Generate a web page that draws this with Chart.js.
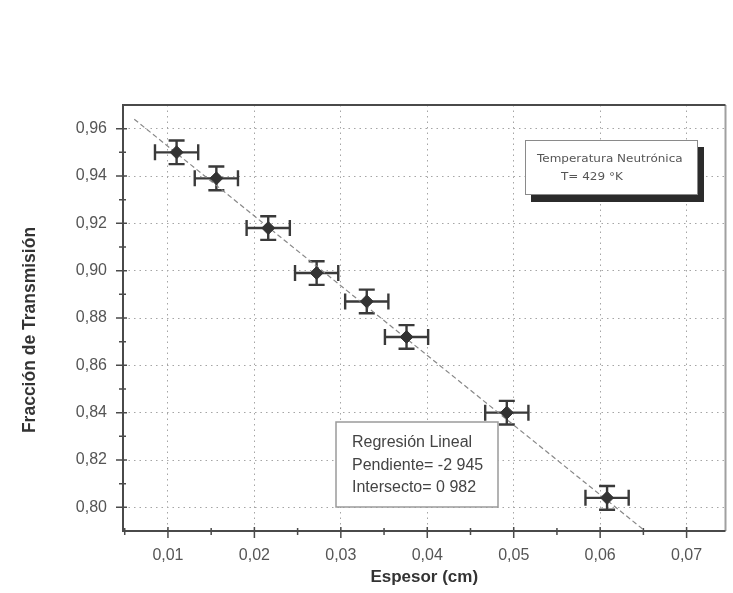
<!DOCTYPE html>
<html>
<head>
<meta charset="utf-8">
<script src="https://cdn.jsdelivr.net/npm/chart.js@4.4.1/dist/chart.umd.min.js"></script>
<style>
  html, body { margin: 0; padding: 0; background: #ffffff; }
  #wrap { width: 733px; height: 593px; }
</style>
</head>
<body>
<div id="wrap"><canvas id="c" width="733" height="593"></canvas></div>
<script>
// ---- data ----
const espesor      = [0.0110, 0.0156, 0.0216, 0.0272, 0.0330, 0.0376, 0.0492, 0.0608];
const transmision  = [0.950, 0.939, 0.918, 0.899, 0.887, 0.872, 0.840, 0.804];
const errX         = [0.0025, 0.0025, 0.0025, 0.0025, 0.0025, 0.0025, 0.0025, 0.0025];
const errY         = [0.005, 0.005, 0.005, 0.005, 0.005, 0.005, 0.005, 0.005];
const fitX         = [0.0061, 0.0652];
const fitY         = [0.9640, 0.7900];
const xTicks       = [0.01, 0.02, 0.03, 0.04, 0.05, 0.06, 0.07];
const xMinorTicks  = [0.005, 0.015, 0.025, 0.035, 0.045, 0.055, 0.065];
const yTicks       = [0.80, 0.82, 0.84, 0.86, 0.88, 0.90, 0.92, 0.94, 0.96];
const yMinorTicks  = [0.79, 0.81, 0.83, 0.85, 0.87, 0.89, 0.91, 0.93, 0.95, 0.97];
const xTitle = 'Espesor (cm)';
const yTitle = 'Fracción de Transmisión';
const regText = ['Regresión Lineal', 'Pendiente= -2 945', 'Intersecto= 0 982'];
const tempText = ['Temperatura Neutrónica', 'T= 429 °K'];

const fmt = v => v.toFixed(2).replace('.', ',');
const SANS = '"Liberation Sans", Arial, sans-serif';

const decor = {
  id: 'decor',
  beforeDatasetsDraw(chart) {
    const {ctx, chartArea: a, scales: {x, y}} = chart;
    ctx.save();
    // frame
    ctx.strokeStyle = '#a0a0a0';
    ctx.lineWidth = 2;
    ctx.beginPath();
    ctx.moveTo(a.right, a.top); ctx.lineTo(a.right, a.bottom);
    ctx.stroke();
    ctx.strokeStyle = '#4a4a4a';
    ctx.lineWidth = 2;
    ctx.beginPath();
    ctx.moveTo(a.right, a.top); ctx.lineTo(a.left, a.top); ctx.lineTo(a.left, a.bottom); ctx.lineTo(a.right, a.bottom);
    ctx.stroke();
    // ticks
    ctx.lineWidth = 1.5;
    ctx.strokeStyle = '#4a4a4a';
    ctx.beginPath();
    yTicks.forEach(v => { const p = y.getPixelForValue(v); ctx.moveTo(a.left - 7, p); ctx.lineTo(a.left + 4, p); });
    yMinorTicks.forEach(v => { const p = y.getPixelForValue(v); if (p > a.top + 1 && p < a.bottom - 1) { ctx.moveTo(a.left - 4, p); ctx.lineTo(a.left + 3, p); } });
    xTicks.forEach(v => { const p = x.getPixelForValue(v); ctx.moveTo(p, a.bottom + 7); ctx.lineTo(p, a.bottom - 4); });
    xMinorTicks.forEach(v => { const p = x.getPixelForValue(v); if (p > a.left + 1 && p < a.right - 1) { ctx.moveTo(p, a.bottom + 4); ctx.lineTo(p, a.bottom - 3); } });
    ctx.stroke();
    // error bars
    ctx.strokeStyle = '#3a3a3a';
    ctx.lineWidth = 2.4;
    const cap = 8;
    ctx.beginPath();
    espesor.forEach((xv, i) => {
      const yv = transmision[i];
      const px = x.getPixelForValue(xv), py = y.getPixelForValue(yv);
      const x0 = x.getPixelForValue(xv - errX[i]), x1 = x.getPixelForValue(xv + errX[i]);
      const y0 = y.getPixelForValue(yv + errY[i]), y1 = y.getPixelForValue(yv - errY[i]);
      ctx.moveTo(x0, py); ctx.lineTo(x1, py);
      ctx.moveTo(x0, py - cap); ctx.lineTo(x0, py + cap);
      ctx.moveTo(x1, py - cap); ctx.lineTo(x1, py + cap);
      ctx.moveTo(px, y0); ctx.lineTo(px, y1);
      ctx.moveTo(px - cap, y0); ctx.lineTo(px + cap, y0);
      ctx.moveTo(px - cap, y1); ctx.lineTo(px + cap, y1);
    });
    ctx.stroke();
    ctx.restore();
  },
  afterDatasetsDraw(chart) {
    const {ctx} = chart;
    ctx.save();
    // temperature box with shadow
    ctx.fillStyle = '#2b2b2b';
    ctx.fillRect(531, 147, 173, 55);
    ctx.fillStyle = '#ffffff';
    ctx.fillRect(525, 140, 173, 55);
    ctx.strokeStyle = '#8a8a8a';
    ctx.lineWidth = 1;
    ctx.strokeRect(525.5, 140.5, 172, 54);
    ctx.fillStyle = '#555555';
    ctx.font = '12px "DejaVu Sans", sans-serif';
    ctx.textBaseline = 'middle';
    ctx.textAlign = 'left';
    ctx.save();
    ctx.translate(537, 159); ctx.scale(1.0, 0.9);
    ctx.fillText(tempText[0], 0, 0);
    ctx.restore();
    ctx.save();
    ctx.translate(561, 177); ctx.scale(1.0, 0.9);
    ctx.fillText(tempText[1], 0, 0);
    ctx.restore();
    // regression box
    ctx.fillStyle = '#ffffff';
    ctx.fillRect(336, 422, 162, 85);
    ctx.strokeStyle = '#9a9a9a';
    ctx.lineWidth = 1.5;
    ctx.strokeRect(336, 422, 162, 85);
    ctx.fillStyle = '#444444';
    ctx.font = '16px ' + SANS;
    ctx.fillText(regText[0], 352, 443);
    ctx.fillText(regText[1], 352, 466);
    ctx.fillText(regText[2], 352, 488);
    ctx.restore();
  },
  afterDraw(chart) {
    const {ctx} = chart;
    ctx.save();
    ctx.fillStyle = '#333333';
    ctx.font = 'bold 17.5px ' + SANS;
    ctx.textAlign = 'center';
    ctx.textBaseline = 'middle';
    ctx.translate(30, 330);
    ctx.rotate(-Math.PI / 2);
    ctx.fillText(yTitle, 0, 0);
    ctx.restore();
  }
};

new Chart(document.getElementById('c'), {
  type: 'scatter',
  data: {
    datasets: [
      {
        type: 'line',
        data: fitX.map((v, i) => ({x: v, y: fitY[i]})),
        borderColor: '#888888',
        borderWidth: 1.2,
        borderDash: [5, 3],
        pointRadius: 0,
        fill: false,
        order: 2
      },
      {
        data: espesor.map((v, i) => ({x: v, y: transmision[i]})),
        pointStyle: 'rectRot',
        pointRadius: 6.5,
        backgroundColor: '#333333',
        borderColor: '#333333',
        borderWidth: 1,
        order: 1
      }
    ]
  },
  options: {
    responsive: false,
    animation: false,
    devicePixelRatio: 1,
    layout: { padding: { top: 105, right: 5, left: 0, bottom: 0 } },
    plugins: { legend: { display: false }, tooltip: { enabled: false } },
    scales: {
      x: {
        type: 'linear',
        min: 0.0048,
        max: 0.0745,
        afterBuildTicks: s => { s.ticks = xTicks.map(v => ({value: v})); },
        afterFit: s => { s.height = 62; },
        ticks: {
          callback: v => fmt(v),
          color: '#555555',
          font: { family: SANS, size: 16 },
          padding: 7,
          maxRotation: 0
        },
        grid: { color: '#a5a5a5', lineWidth: 1, drawTicks: true, tickLength: 8, tickColor: 'rgba(0,0,0,0)' },
        border: { display: false, dash: [1.5, 4] },
        title: {
          display: true,
          text: xTitle,
          color: '#333333',
          font: { family: SANS, size: 17, weight: 'bold' },
          padding: { top: 0, bottom: 5 }
        }
      },
      y: {
        type: 'linear',
        min: 0.79,
        max: 0.97,
        afterBuildTicks: s => { s.ticks = yTicks.map(v => ({value: v})); },
        afterFit: s => { s.width = 123; },
        ticks: {
          callback: v => fmt(v),
          color: '#555555',
          font: { family: SANS, size: 16 },
          padding: 8
        },
        grid: { color: '#a5a5a5', lineWidth: 1, drawTicks: true, tickLength: 8, tickColor: 'rgba(0,0,0,0)' },
        border: { display: false, dash: [1.5, 4] },
        title: { display: false }
      }
    }
  },
  plugins: [decor]
});
</script>
</body>
</html>
